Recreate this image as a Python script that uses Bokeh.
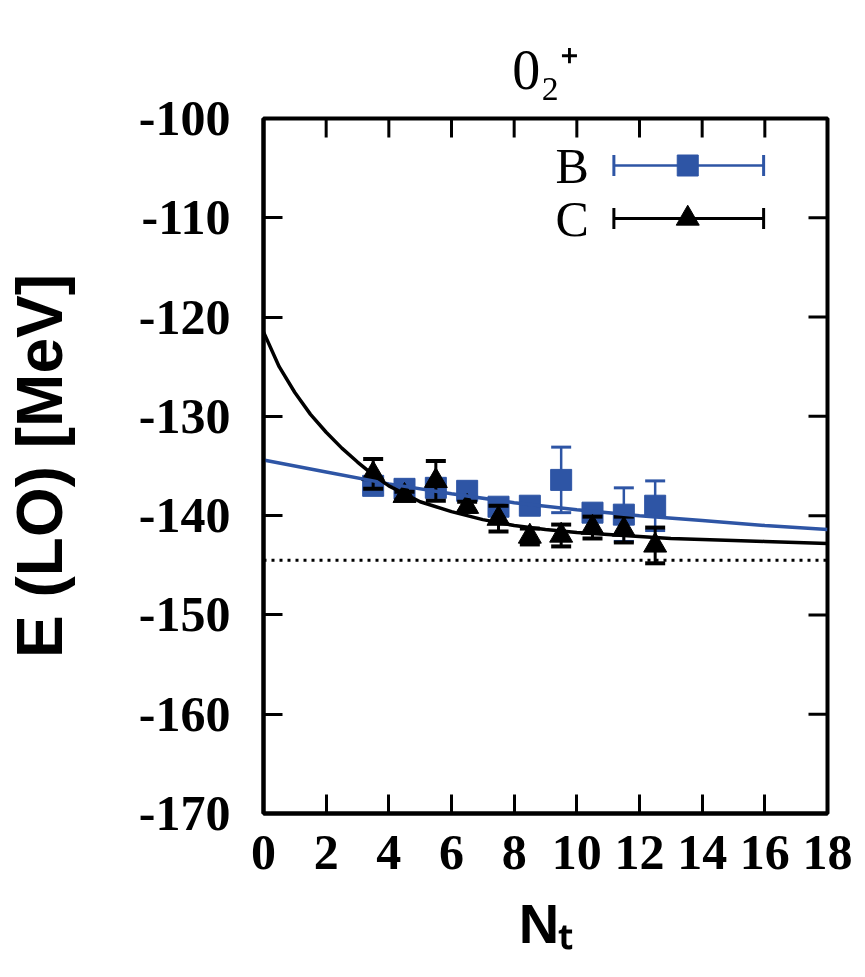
import math
from bokeh.plotting import figure
from bokeh.models import Range1d, FixedTicker, Label
from bokeh.embed import file_html
from bokeh.resources import INLINE

# ---------------- data ----------------
nt = [3.5, 4.5, 5.5, 6.5, 7.5, 8.5, 9.5, 10.5, 11.5, 12.5]
e_B = [-137.0, -137.3, -137.2, -137.5, -139.1, -139.0, -136.4, -139.7, -139.9, -139.0]
err_B = [0.4, 0.3, 0.5, 0.4, 0.5, 0.4, 3.3, 0.5, 2.7, 2.5]
e_C = [-135.8, -138.0, -136.5, -139.1, -140.3, -142.1, -142.0, -141.2, -141.4, -143.0]
err_C = [1.5, 0.4, 2.0, 0.5, 1.3, 0.8, 1.1, 1.1, 1.3, 1.8]

fitC_x = [0, 0.5, 1, 1.5, 2, 2.5, 3, 3.5, 4, 5, 6, 7, 8, 9, 10, 11, 12, 13, 14, 15, 16, 17, 18]
fitC_y = [-121.5, -125.0, -127.6, -129.8, -131.6, -133.2, -134.6, -135.9, -137.0, -138.6,
          -139.6, -140.4, -141.0, -141.4, -141.7, -141.9, -142.1, -142.3, -142.4, -142.5,
          -142.6, -142.7, -142.8]
fitB_x = [0, 2, 4, 6, 8, 10, 12, 14, 16, 18]
fitB_y = [-134.4, -135.6, -136.8, -137.8, -138.7, -139.4, -140.0, -140.5, -141.0, -141.4]
limit_y = -144.5

x_ticks = [0, 2, 4, 6, 8, 10, 12, 14, 16, 18]
y_ticks = [-170, -160, -150, -140, -130, -120, -110, -100]
series_names = ["B", "C"]
title_text = "0\u2082\u207a"
ylabel = "E (LO) [MeV]"
xlabel = "N\u209c"

# ---------------- layout ----------------
W, H = 865, 977
FL, FR, FT, FB = 262, 827, 118, 813
XMIN, XMAX, YMIN, YMAX = 0, 18, -170, -100
BLUE = "#2E55A5"
SERIF = "Liberation Serif"
SANS = "Liberation Sans"
TICK_LEN = 19


def X(px):
    return XMIN + (px - FL) / (FR - FL) * (XMAX - XMIN)


def Y(py):
    return YMAX - (py - FT) / (FB - FT) * (YMAX - YMIN)


p = figure(width=W, height=H, x_range=Range1d(XMIN, XMAX), y_range=Range1d(YMIN, YMAX),
           output_backend="svg", toolbar_location=None,
           min_border_left=FL, min_border_right=W - FR,
           min_border_top=FT, min_border_bottom=H - FB)
p.grid.visible = False
p.outline_line_color = "black"
p.outline_line_width = 4
p.background_fill_color = "white"
p.border_fill_color = "white"

# title
p.title.text = title_text
p.title.align = "center"
p.title.offset = 0
p.title.text_font = SERIF
p.title.text_font_size = "56px"
p.title.text_font_style = "normal"
p.title.text_color = "black"
p.title.standoff = 36


def style_axis(ax, ticks):
    ax.ticker = FixedTicker(ticks=ticks)
    ax.axis_line_width = 4
    ax.axis_line_color = "black"
    ax.major_tick_in = TICK_LEN
    ax.major_tick_out = 0
    ax.major_tick_line_width = 3
    ax.minor_tick_in = 0
    ax.minor_tick_out = 0
    ax.major_label_text_font = SERIF
    ax.major_label_text_font_style = "bold"
    ax.major_label_text_font_size = "50px"
    ax.major_label_text_color = "black"
    ax.major_label_overrides = {t: str(t) for t in ticks}


style_axis(p.xaxis[0], x_ticks)
style_axis(p.yaxis[0], y_ticks)
p.xaxis[0].major_label_standoff = 22
p.yaxis[0].major_label_standoff = 33

p.yaxis[0].axis_label = ylabel
p.yaxis[0].axis_label_text_font = SANS
p.yaxis[0].axis_label_text_font_style = "bold"
p.yaxis[0].axis_label_text_font_size = "64px"
p.yaxis[0].axis_label_text_color = "black"
p.yaxis[0].axis_label_standoff = 60

p.xaxis[0].axis_label = xlabel
p.xaxis[0].axis_label_text_font = SANS
p.xaxis[0].axis_label_text_font_style = "bold"
p.xaxis[0].axis_label_text_font_size = "56px"
p.xaxis[0].axis_label_text_color = "black"
p.xaxis[0].axis_label_standoff = 20

# mirror ticks on top and right (markers centred on the frame edge, outer half clipped)
p.scatter(x_ticks, [YMAX] * len(x_ticks), marker="dash", angle=math.pi / 2, size=2 * TICK_LEN,
          line_color="black", line_width=3)
p.scatter([XMAX] * len(y_ticks), y_ticks, marker="dash", size=2 * TICK_LEN,
          line_color="black", line_width=3)

# ---------------- data glyphs ----------------
lo_B = [v - e for v, e in zip(e_B, err_B)]
hi_B = [v + e for v, e in zip(e_B, err_B)]
lo_C = [v - e for v, e in zip(e_C, err_C)]
hi_C = [v + e for v, e in zip(e_C, err_C)]

# B series
p.segment(x0=nt, y0=lo_B, x1=nt, y1=hi_B, line_color=BLUE, line_width=2.5)
p.scatter(nt, lo_B, marker="dash", size=20, line_color=BLUE, line_width=3)
p.scatter(nt, hi_B, marker="dash", size=20, line_color=BLUE, line_width=3)
p.scatter(nt, e_B, marker="square", size=21, fill_color=BLUE, line_color=BLUE)

# C series
p.segment(x0=nt, y0=lo_C, x1=nt, y1=hi_C, line_color="black", line_width=3)
p.scatter(nt, lo_C, marker="dash", size=20, line_color="black", line_width=4)
p.scatter(nt, hi_C, marker="dash", size=20, line_color="black", line_width=4)
p.scatter(nt, e_C, marker="triangle", size=23, fill_color="black", line_color="black")

# fits and limit
p.line(fitB_x, fitB_y, line_color=BLUE, line_width=3.5)
p.line(fitC_x, fitC_y, line_color="black", line_width=3.5)
p.line([XMIN, XMAX], [limit_y, limit_y], line_color="black", line_width=3, line_dash="3 5")

# ---------------- legend (drawn by hand) ----------------
leg_x0, leg_x1, leg_xm = X(613), X(763), X(687)
for name, py, color, marker, lw in [(series_names[0], 165, BLUE, "square", 2.5),
                                    (series_names[1], 218, "black", "triangle", 3)]:
    yy = Y(py)
    p.line([leg_x0, leg_x1], [yy, yy], line_color=color, line_width=lw)
    p.scatter([leg_x0, leg_x1], [yy, yy], marker="dash", angle=math.pi / 2, size=21,
              line_color=color, line_width=3)
    p.scatter([leg_xm], [yy], marker=marker, size=21 if marker == "square" else 23,
              fill_color=color, line_color=color)
    p.add_layout(Label(x=X(588), y=yy, text=name, text_align="right", text_baseline="middle",
                       text_font=SERIF, text_font_size="50px", text_color="black"))

open("out.html", "w").write(file_html(p, INLINE))
